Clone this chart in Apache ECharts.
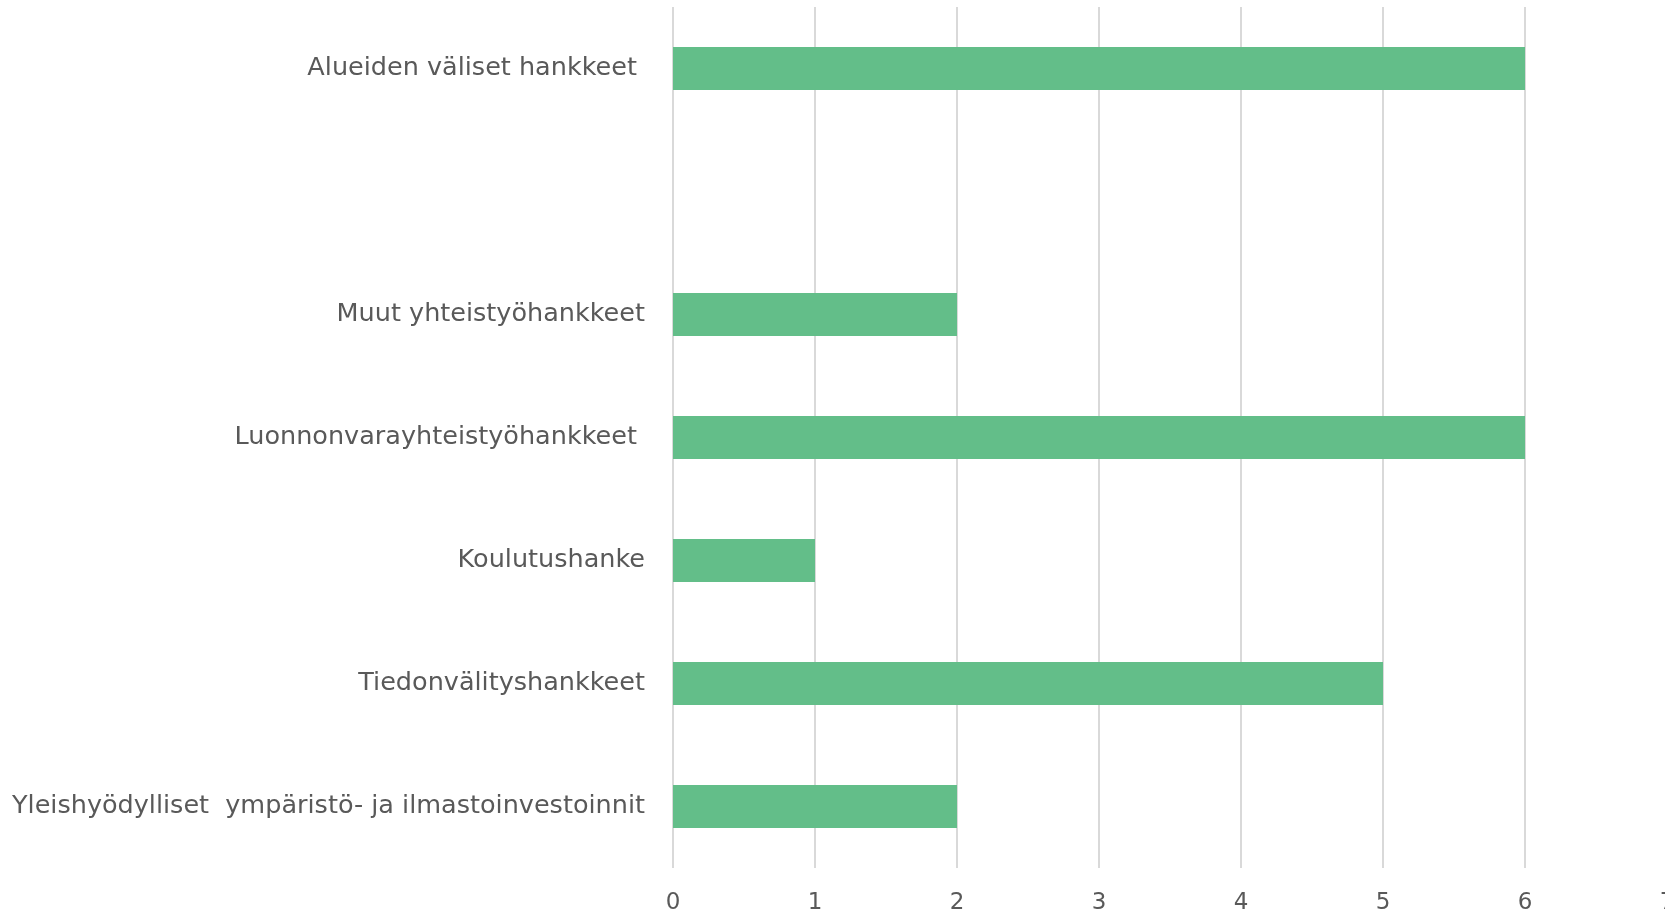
<!DOCTYPE html>
<html>
<head>
<meta charset="utf-8">
<script src="https://cdn.jsdelivr.net/npm/echarts@6/dist/echarts.min.js"></script>
<style>
html,body{margin:0;padding:0;background:#fff;}
#chart{width:1665px;height:914px;}
</style>
</head>
<body>
<div id="chart"></div>
<script>
const categories = [
  'Alueiden väliset hankkeet ',
  '',
  'Muut yhteistyöhankkeet',
  'Luonnonvarayhteistyöhankkeet ',
  'Koulutushanke',
  'Tiedonvälityshankkeet',
  'Yleishyödylliset  ympäristö- ja ilmastoinvestoinnit'
];
const values = [6, null, 2, 6, 1, 5, 2];
const xTicks = { min: 0, max: 7, interval: 1 };

const chart = echarts.init(document.getElementById('chart'));
const FONT = 'DejaVu Sans';
chart.setOption({
  animation: false,
  grid: { left: 673, top: 7, width: 994, height: 861, containLabel: false, outerBoundsMode: 'none' },
  xAxis: {
    type: 'value', min: xTicks.min, max: xTicks.max, interval: xTicks.interval,
    axisLine: { show: false }, axisTick: { show: false },
    splitLine: { show: true, lineStyle: { color: '#d9d9d9', width: 2 } },
    axisLabel: { color: '#595959', fontFamily: FONT, fontSize: 23, margin: 24 }
  },
  yAxis: {
    type: 'category', data: categories, inverse: true,
    axisLine: { show: false }, axisTick: { show: false },
    axisLabel: { color: '#595959', fontFamily: FONT, fontSize: 25.5, margin: 28, padding: [4, 0, 0, 0] }
  },
  series: [{
    type: 'bar', data: values, barWidth: 43,
    itemStyle: { color: '#63BE89' }
  }]
});
</script>
</body>
</html>
